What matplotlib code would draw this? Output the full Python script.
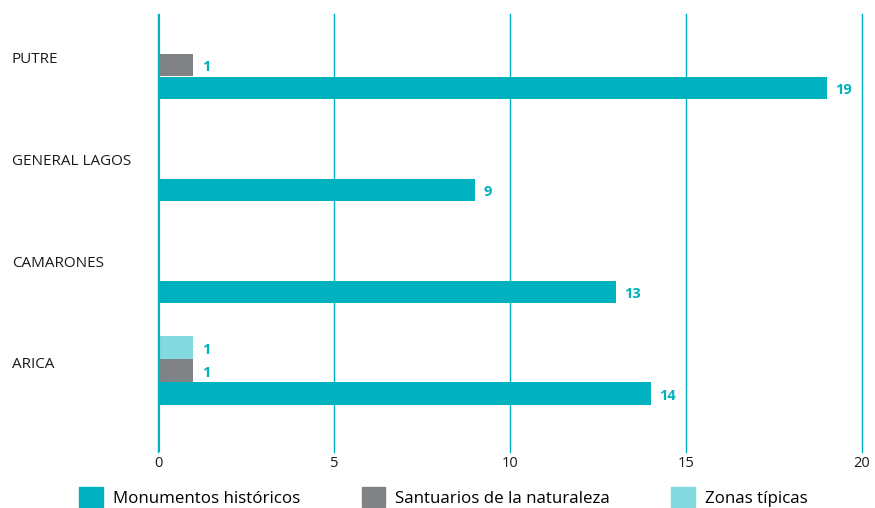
import numpy as np
import matplotlib.pyplot as plt
from matplotlib.patches import Patch

plt.rcParams['font.family'] = ['Open Sans', 'DejaVu Sans']

comunas = ["PUTRE", "GENERAL LAGOS", "CAMARONES", "ARICA"]
monumentos = [19, 9, 13, 14]
santuarios = [1, 0, 0, 1]
zonas = [0, 0, 0, 1]
series_names = ["Monumentos históricos", "Santuarios de la naturaleza", "Zonas típicas"]

teal = "#00b2c0"
gray = "#808285"
light = "#82d9de"
colors = [teal, gray, light]

fig = plt.figure(figsize=(8.75, 5.08), dpi=100)
ax = fig.add_axes([158/875, 1-452/508, 704/875, 438/508])

gap = 4.43
pos = np.arange(len(comunas)) * gap
h = 0.97

for vals, off, c in [(monumentos, 0, teal), (santuarios, -1, gray), (zonas, -2, light)]:
    for p, v in zip(pos, vals):
        if v == 0:
            continue
        ax.barh(p + off, v, height=h, color=c, zorder=3)
        ax.text(v + 0.25, p + off + 0.1, str(v), color=teal, fontsize=10.5,
                fontweight='bold', va='center', ha='left', zorder=4)

for p, name in zip(pos, comunas):
    ax.text(-146/35.2, p - 1.25, name, fontsize=11, color="#1a1a1a",
            va='center', ha='left')

ax.set_xlim(0, 20)
ax.set_ylim(-3.22, 15.83)
ax.invert_yaxis()
ax.set_xticks([0, 5, 10, 15, 20])
ax.set_yticks([])
ax.tick_params(axis='x', length=0, pad=3, labelsize=10.5, labelcolor="#1a1a1a")
ax.grid(axis='x', color=teal, linewidth=1, zorder=0)
for gl in ax.get_xgridlines():
    gl.set_clip_on(False)
for s in ax.spines.values():
    s.set_visible(False)
ax.axvline(0, color=teal, linewidth=3, zorder=5)

handles = [Patch(color=c) for c in colors]
fig.legend(handles, series_names, loc='center', bbox_to_anchor=(0.507, 1-497/508),
           ncol=3, frameon=False, fontsize=12.2, handlelength=1.4, handleheight=1.4,
           columnspacing=3.6, handletextpad=0.6)

fig.savefig("out.png", dpi=100)
